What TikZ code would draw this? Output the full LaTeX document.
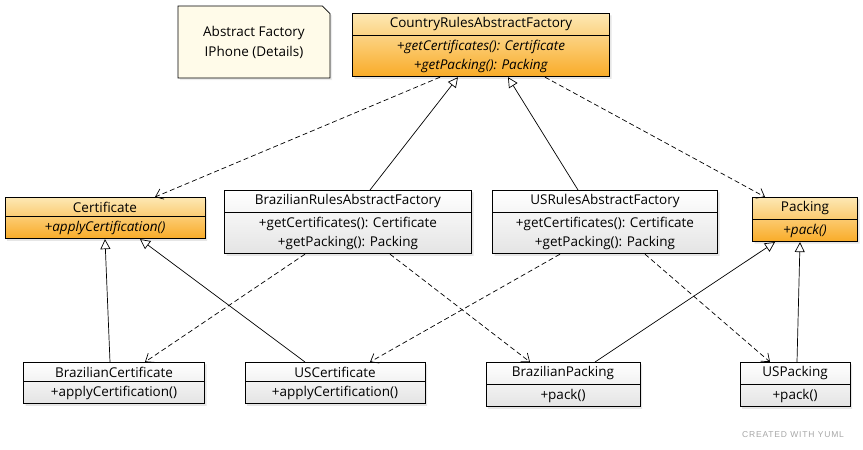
\documentclass[tikz,border=0pt]{standalone}
\usepackage{fontspec}
\setmainfont{Open Sans}
\newfontfamily\creditfont[LetterSpace=10]{Liberation Sans}
\usetikzlibrary{shapes,arrows.meta,shadows}
\definecolor{umlorange}{HTML}{F9AB27}
\definecolor{umllight}{HTML}{FDE8B4}
\definecolor{notefill}{HTML}{FFFBE9}
\definecolor{umlgray}{HTML}{E4E4E4}
\frenchspacing

\begin{document}
\begin{tikzpicture}[x=1pt,y=-1pt,
  umlclass/.style={rectangle split,rectangle split parts=2,draw,line width=0.7pt,
    anchor=north,align=center,inner xsep=3pt,inner ysep=4pt,
    font=\fontsize{13.5}{19}\selectfont,
    drop shadow={opacity=0.2,shadow xshift=2pt,shadow yshift=-2pt}},
  abstract/.style={umlclass,top color=umllight,bottom color=umlorange},
  concrete/.style={umlclass,top color=white,bottom color=umlgray},
  note/.style={chamfered rectangle,chamfered rectangle corners=north east,
    chamfered rectangle xsep=4pt,draw,line width=0.7pt,fill=notefill,align=center,
    minimum width=152pt,minimum height=72pt,font=\fontsize{13.5}{20}\selectfont,
    drop shadow={opacity=0.15,shadow xshift=2pt,shadow yshift=-2pt}},
  uses/.style={dash pattern=on 5pt off 3pt,line width=0.7pt,
    -{Straight Barb[length=7pt,width=11pt]}},
  extends/.style={line width=0.7pt,-{Triangle[open,length=10pt,width=10pt,fill=white]}}]
    \useasboundingbox (0,0) rectangle (863,450);
    % Note
    \node[note] (note) at (254,42) {Abstract Factory\\IPhone (Details)};
    % Factories
    \node[abstract,text width=251pt] (countryFactory) at (481,13)
      {CountryRulesAbstractFactory
       \nodepart{second}\textit{+getCertificates(): Certificate}\\\textit{+getPacking(): Packing}};
    \node[concrete,text width=241pt] (brFactory) at (348,190)
      {BrazilianRulesAbstractFactory
       \nodepart{second}+getCertificates(): Certificate\\+getPacking(): Packing};
    \node[concrete,text width=219pt] (usFactory) at (605,190)
      {USRulesAbstractFactory
       \nodepart{second}+getCertificates(): Certificate\\+getPacking(): Packing};
    % Products
    \node[abstract,text width=194pt] (cert) at (105,197)
      {Certificate\nodepart{second}\textit{+applyCertification()}};
    \node[abstract,text width=99pt] (pack) at (805,197)
      {Packing\nodepart{second}\textit{+pack()}};
    \node[concrete,text width=175pt] (brCert) at (114,362)
      {BrazilianCertificate\nodepart{second}+applyCertification()};
    \node[concrete,text width=174pt] (usCert) at (335,362)
      {USCertificate\nodepart{second}+applyCertification()};
    \node[concrete,text width=148pt] (brPack) at (563,362)
      {BrazilianPacking\nodepart{second}+pack()};
    \node[concrete,text width=104pt] (usPack) at (795,362)
      {USPacking\nodepart{second}+pack()};
    % Inheritance
    \draw[extends] ([xshift=22pt]brFactory.north) -- ([xshift=-23pt]countryFactory.south);
    \draw[extends] ([xshift=-27pt]usFactory.north) -- ([xshift=27pt]countryFactory.south);
    \draw[extends] ([xshift=-4pt]brCert.north) -- (cert.south);
    \draw[extends] ([xshift=-30pt]usCert.north) -- ([xshift=35pt]cert.south);
    \draw[extends] ([xshift=32pt]brPack.north) -- ([xshift=-30pt]pack.south);
    \draw[extends] ([xshift=2pt]usPack.north) -- ([xshift=-5pt]pack.south);
    % Dependencies
    \draw[uses] ([xshift=-41pt]countryFactory.south) -- ([xshift=50pt]cert.north);
    \draw[uses] ([xshift=64pt]countryFactory.south) -- ([xshift=-40pt]pack.north);
    \draw[uses] ([xshift=-43pt]brFactory.south) -- ([xshift=31pt]brCert.north);
    \draw[uses] ([xshift=42pt]brFactory.south) -- ([xshift=-33pt]brPack.north);
    \draw[uses] ([xshift=-45pt]usFactory.south) -- ([xshift=35pt]usCert.north);
    \draw[uses] ([xshift=40pt]usFactory.south) -- ([xshift=-25pt]usPack.north);
    % Credit
    \node[text=gray!70,font=\creditfont\fontsize{8.5}{10}\selectfont] (credit) at (793,435) {CREATED WITH YUML};
\end{tikzpicture}
\end{document}
